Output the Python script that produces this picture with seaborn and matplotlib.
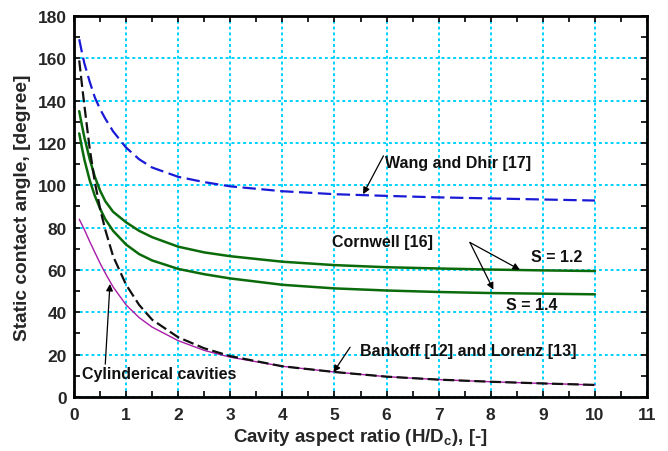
import matplotlib
matplotlib.use("Agg")
import matplotlib.pyplot as plt
from matplotlib.ticker import MultipleLocator
import pandas as pd
import seaborn as sns

# Cavity aspect ratio H/Dc sample points
aspect_ratio = [0.1, 0.15, 0.2, 0.3, 0.4, 0.5, 0.6, 0.75, 1.0, 1.25, 1.5,
                2.0, 2.5, 3.0, 4.0, 5.0, 6.0, 7.0, 8.0, 9.0, 10.0]

# Static contact angle [degree] for each model
wang_dhir = [169, 163, 157.5, 149, 141.5, 136, 131.5, 125.5, 117.8, 112.3, 108.4,
             104, 101.5, 99.5, 97.2, 95.8, 95.0, 94.3, 93.8, 93.3, 92.8]
cornwell_s12 = [135, 128.5, 122.5, 112.5, 104, 97.5, 92.5, 87.5, 82.5, 78.5, 75.5,
                71, 68.3, 66.5, 63.9, 62.3, 61.3, 60.7, 60.2, 59.8, 59.5]
cornwell_s14 = [124.5, 118, 112, 102.5, 95, 89, 84, 78.5, 72, 67.5, 64.5,
                60.5, 58, 56, 53, 51.3, 50.3, 49.6, 49.1, 48.8, 48.5]
bankoff = [159, 148, 137.5, 117.5, 101.5, 89, 79, 66.5, 53, 43.5, 36.5,
           28.2, 23, 19.3, 14.5, 11.8, 9.6, 8.2, 7.2, 6.4, 5.7]
lorenz = [84, 81.5, 79, 73.5, 68.3, 63.2, 58.5, 52, 43.5, 37.5, 33,
          26.6, 22.0, 18.8, 14.5, 11.8, 9.6, 8.2, 7.2, 6.4, 5.7]

x_ticks = list(range(0, 12))
y_ticks = list(range(0, 181, 20))

df = pd.DataFrame({
    "ar": aspect_ratio,
    "wang": wang_dhir,
    "s12": cornwell_s12,
    "s14": cornwell_s14,
    "bankoff": bankoff,
    "lorenz": lorenz,
})

sns.set_theme(style="white")
plt.rcParams["font.family"] = ["Liberation Sans", "DejaVu Sans"]
plt.rcParams["font.weight"] = "bold"
plt.rcParams["mathtext.fontset"] = "custom"
plt.rcParams["mathtext.rm"] = "Liberation Sans:bold"
plt.rcParams["mathtext.default"] = "rm"

fig = plt.figure(figsize=(6.68, 4.52), dpi=100)
ax = fig.add_axes([0.1108, 0.1195, 0.8578, 0.843])

grid_color = "#00d2ff"
ax.set_xlim(0, 11)
ax.set_ylim(0, 180)
ax.set_xticks(x_ticks)
ax.set_yticks(y_ticks)
ax.xaxis.set_minor_locator(MultipleLocator(0.5))
ax.yaxis.set_minor_locator(MultipleLocator(10))
ax.grid(True, which="major", color=grid_color, linestyle=(0, (1.5, 1.5)),
        linewidth=1.4)
ax.set_axisbelow(True)

sns.lineplot(data=df, x="ar", y="wang", ax=ax, color="#1a1ad6",
             linewidth=1.6, linestyle=(0, (6, 2.5)))
sns.lineplot(data=df, x="ar", y="s12", ax=ax, color="#0b6b0b", linewidth=1.8)
sns.lineplot(data=df, x="ar", y="s14", ax=ax, color="#0b6b0b", linewidth=1.8)
sns.lineplot(data=df, x="ar", y="lorenz", ax=ax, color="#a81ca8", linewidth=1.0)
sns.lineplot(data=df, x="ar", y="bankoff", ax=ax, color="#111111",
             linewidth=1.6, linestyle=(0, (5, 2)))

for side in ["left", "right", "top", "bottom"]:
    ax.spines[side].set_visible(True)
    ax.spines[side].set_color("black")
    ax.spines[side].set_linewidth(2.0)

ax.tick_params(which="both", direction="in", top=True, right=True,
               bottom=True, left=True, color="black")
ax.tick_params(which="major", length=4, width=1.2, labelsize=12.5)
ax.tick_params(axis="x", which="major", pad=7)
ax.tick_params(axis="y", which="major", pad=5)
ax.tick_params(which="minor", length=4, width=1.2)
for lbl in ax.get_xticklabels() + ax.get_yticklabels():
    lbl.set_fontweight("bold")

ax.set_xlabel("Cavity aspect ratio (H/D$_c$), [-]", fontsize=13.5,
              fontweight="bold", labelpad=3)
ax.set_ylabel("Static contact angle, [degree]", fontsize=13.8,
              fontweight="bold", labelpad=5)

arrow = dict(arrowstyle="-|>", color="black", lw=0.9,
             mutation_scale=10, shrinkA=0, shrinkB=0)
txt = dict(fontsize=11.5, fontweight="bold", color="#111111")

ax.annotate("", xy=(5.55, 95.8), xytext=(5.94, 113.9), arrowprops=arrow)
ax.text(5.97, 110.8, "Wang and Dhir [17]", ha="left", va="center", **txt)

ax.text(4.95, 73.3, "Cornwell [16]", ha="left", va="center", **txt)
ax.annotate("", xy=(8.56, 60.1), xytext=(7.6, 73.0), arrowprops=arrow)
ax.annotate("", xy=(8.05, 50.7), xytext=(7.6, 73.0), arrowprops=arrow)
ax.text(9.27, 66.4, "S = 1.2", ha="center", va="center", **txt)
ax.text(8.79, 43.9, "S = 1.4", ha="center", va="center", **txt)

ax.annotate("", xy=(4.98, 11.7), xytext=(5.3, 23.5), arrowprops=arrow)
ax.text(5.49, 21.9, "Bankoff [12] and Lorenz [13]", ha="left",
        va="center", **txt)

ax.annotate("", xy=(0.69, 53.4), xytext=(0.6, 15.5), arrowprops=arrow)
ax.text(0.15, 10.9, "Cylinderical cavities", ha="left", va="center", **txt)

fig.savefig("out.png", dpi=100)
